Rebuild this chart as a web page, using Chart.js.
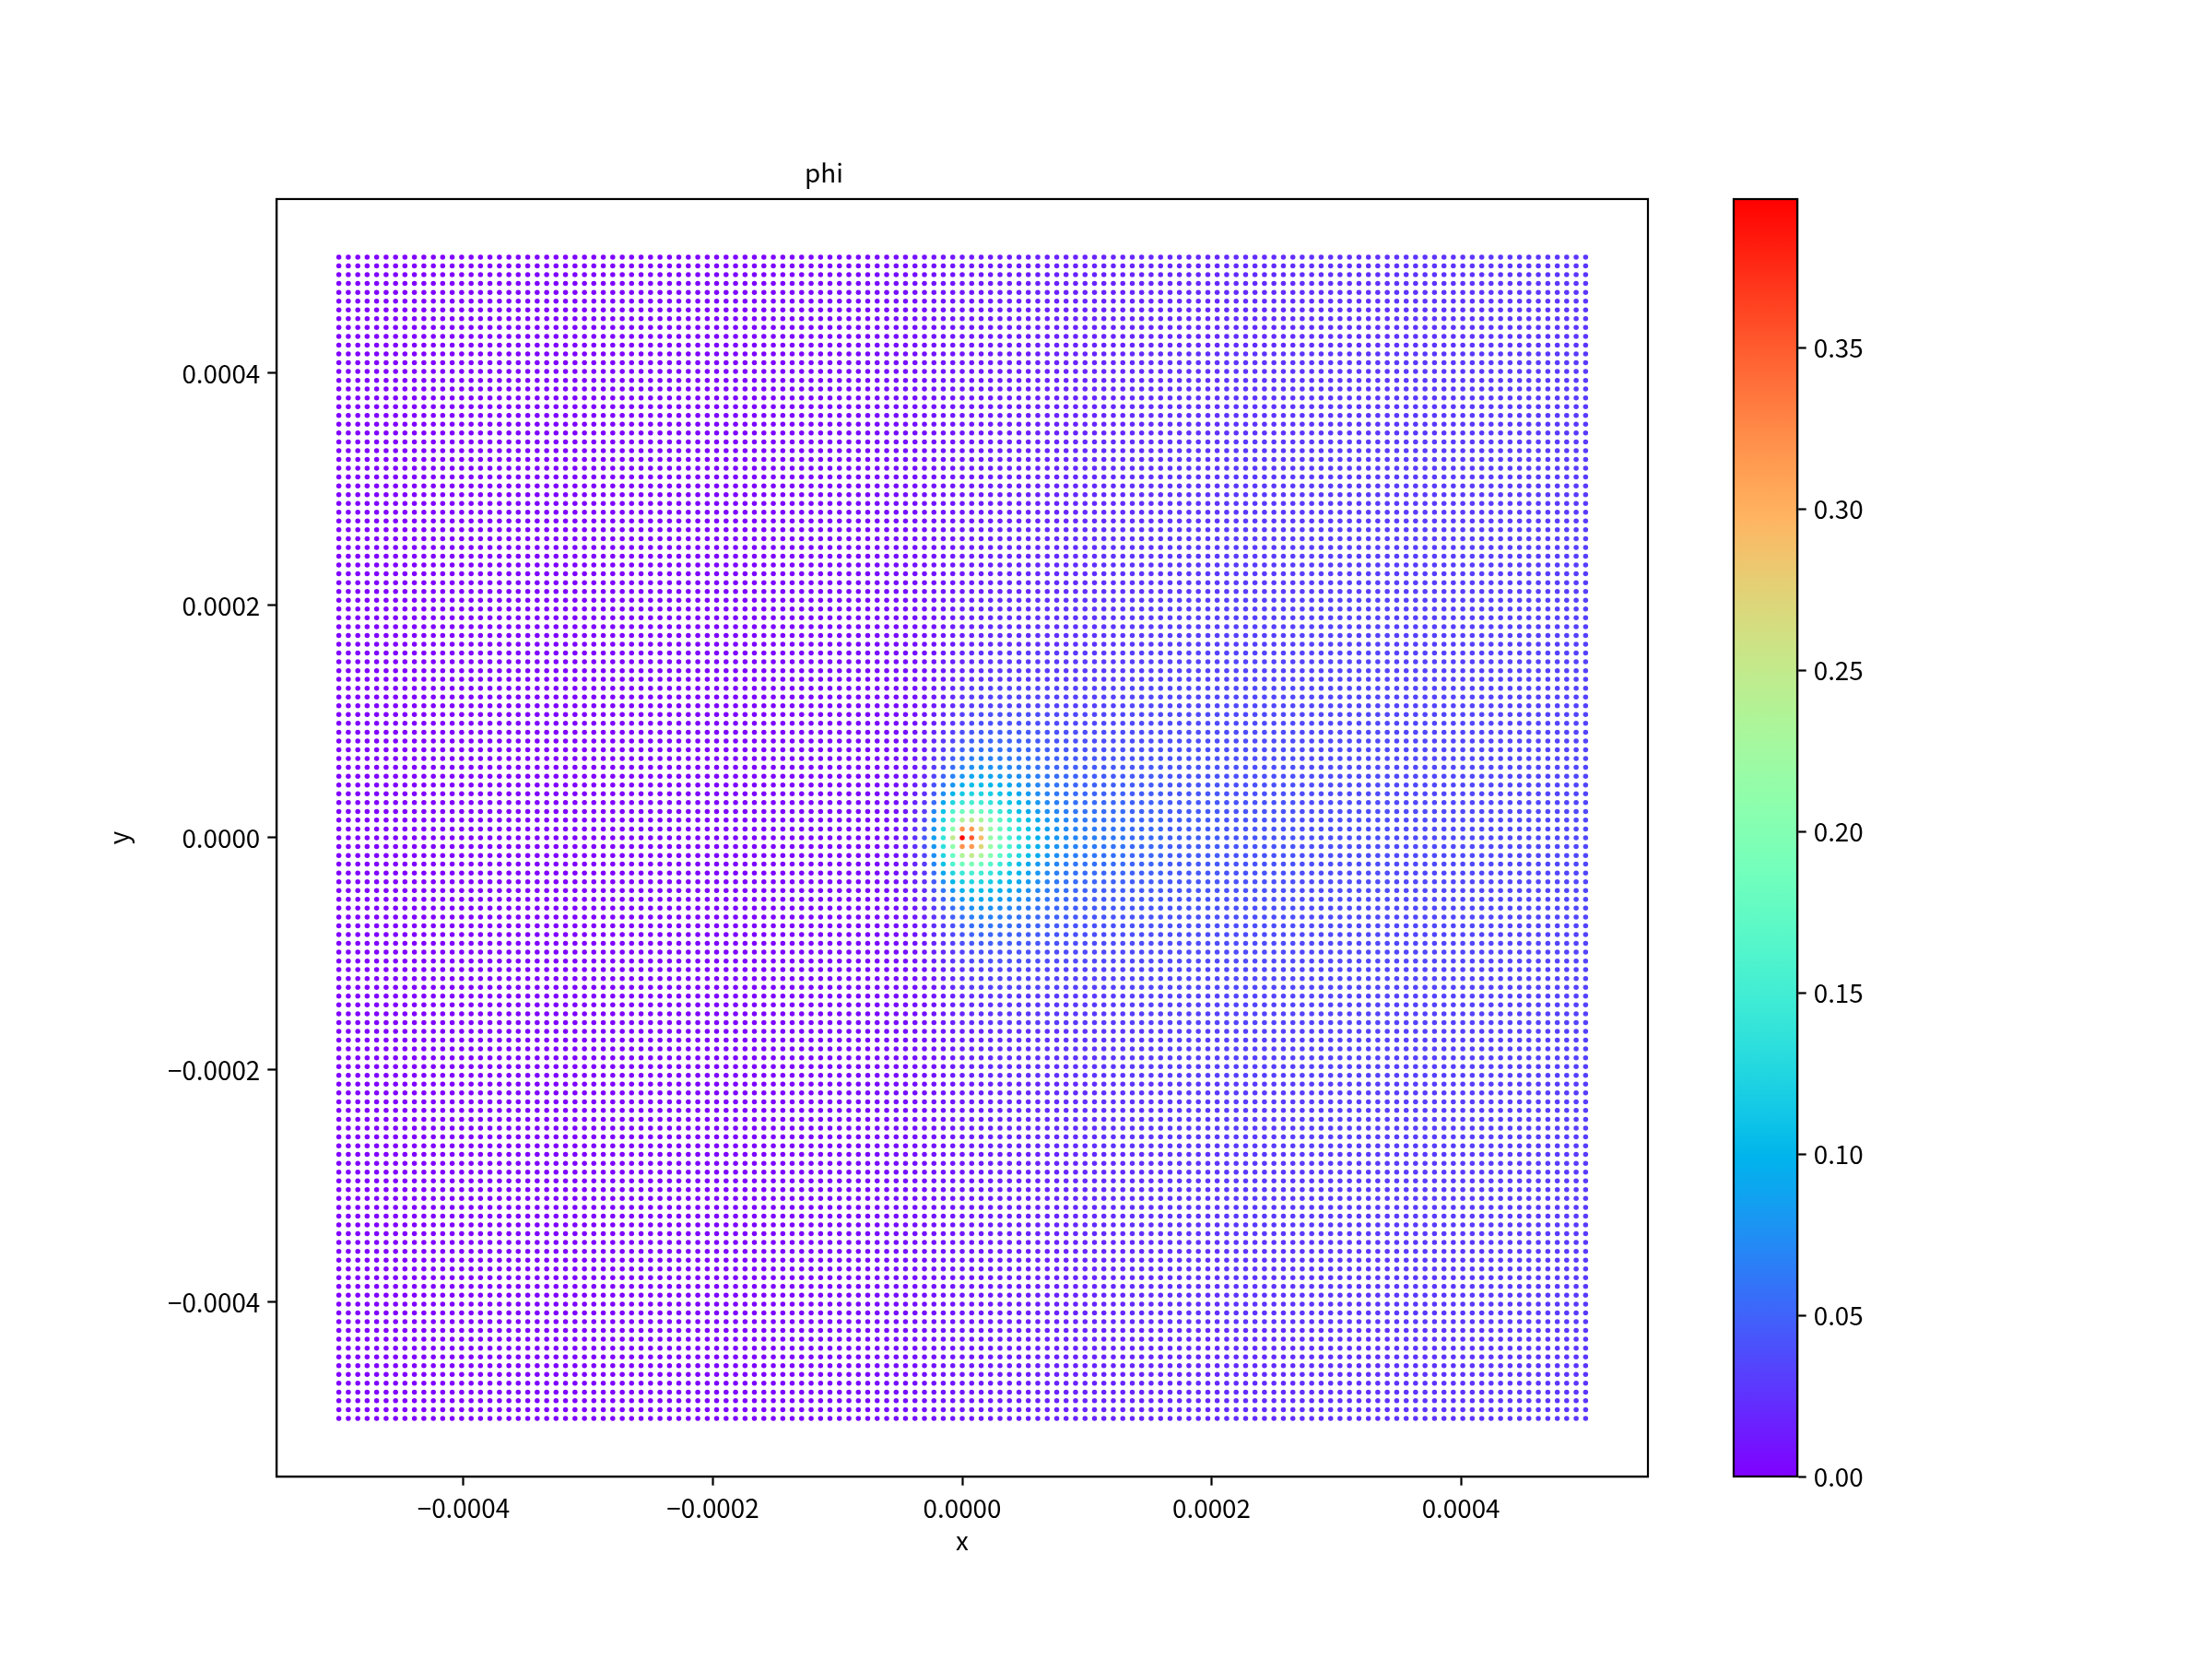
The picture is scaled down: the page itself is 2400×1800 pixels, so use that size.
<!DOCTYPE html>
<html>
<head>
<meta charset="utf-8">
<script src="https://cdn.jsdelivr.net/npm/chart.js@4"></script>
<style>
html,body{margin:0;padding:0;background:#fff;width:2400px;height:1800px;overflow:hidden}
canvas{position:absolute;top:0}
#main{left:0}
#bar{left:1860px}
</style>
</head>
<body>
<canvas id="main" width="1860" height="1800"></canvas>
<canvas id="bar" width="540" height="1800"></canvas>
<script>
// grid coordinates of the probes, in micrometres
const gridCoords = [-500,-492.4,-484.8,-477.3,-469.7,-462.1,-454.5,-447,-439.4,-431.8,-424.2,-416.7,-409.1,-401.5,-393.9,-386.4,-378.8,-371.2,-363.6,-356.1,-348.5,-340.9,-333.3,-325.8,-318.2,-310.6,-303,-295.5,-287.9,-280.3,-272.7,-265.2,-257.6,-250,-242.4,-234.8,-227.3,-219.7,-212.1,-204.5,-197,-189.4,-181.8,-174.2,-166.7,-159.1,-151.5,-143.9,-136.4,-128.8,-121.2,-113.6,-106.1,-98.5,-90.9,-83.3,-75.8,-68.2,-60.6,-53,-45.5,-37.9,-30.3,-22.7,-15.2,-7.6,0,7.6,15.2,22.7,30.3,37.9,45.5,53,60.6,68.2,75.8,83.3,90.9,98.5,106.1,113.6,121.2,128.8,136.4,143.9,151.5,159.1,166.7,174.2,181.8,189.4,197,204.5,212.1,219.7,227.3,234.8,242.4,250,257.6,265.2,272.7,280.3,287.9,295.5,303,310.6,318.2,325.8,333.3,340.9,348.5,356.1,363.6,371.2,378.8,386.4,393.9,401.5,409.1,416.7,424.2,431.8,439.4,447,454.5,462.1,469.7,477.3,484.8,492.4,500];

// how many neighbouring grid columns share each table column, left to right
const colSpans = [18,12,10,8,4,3,2, 1,1,1,1,1,1,1,1,1,1,1,1,1,1,1,1,1,1,1,1,1,1, 2,3,4,6,8,10,10,11];
// how many grid rows share each table row, moving away from y = 0 (field mirrors about y = 0)
const rowSpans = [1,1,1,1,1,1,1,1,1,1,1,1,1,2,3,4,6,8,10,10,11];

// phi, in thousandths
const phiMilli = [
[0,0,1,2,3,3,4, 4,6,9,14,24,45,85,140,250,397,350,290,215,185,155,130,115,95,85,80,75,70, 66,62,54,48,43,39,37,36],
[0,0,1,2,3,3,4, 4,6,9,14,23,40,80,135,210,320,315,270,215,180,155,130,110,95,85,78,72,68, 64,60,53,47,43,39,37,36],
[0,0,1,2,3,3,4, 4,6,9,13,21,35,75,125,180,235,250,230,200,170,145,125,105,92,82,75,70,65, 62,58,52,47,42,39,37,36],
[0,0,1,2,3,3,4, 4,6,8,12,19,30,70,110,160,185,195,185,165,145,125,105,92,82,75,70,65,62, 59,56,51,46,42,39,37,36],
[0,0,1,2,3,3,4, 4,6,8,12,18,27,55,90,125,145,155,150,140,125,110,100,88,80,72,66,62,58, 55,53,49,45,42,38,36,35],
[0,0,1,2,3,3,4, 4,6,8,11,16,24,45,75,100,115,125,125,118,110,100,90,82,75,68,62,58,55, 52,50,47,44,41,38,36,35],
[0,0,1,2,3,3,4, 4,6,8,11,15,22,40,60,80,95,105,105,100,95,90,82,75,70,64,60,56,52, 49,48,46,43,41,38,36,35],
[0,0,1,2,3,3,4, 4,6,8,10,14,20,34,50,68,80,90,90,88,83,78,74,70,65,60,56,53,50, 47,46,45,42,40,38,36,35],
[0,0,1,2,3,3,4, 4,5,7,10,13,18,30,42,56,68,75,78,76,73,70,66,62,58,55,52,50,48, 46,45,44,42,40,37,36,35],
[0,0,1,2,3,3,4, 4,5,7,9,12,17,26,36,48,58,65,68,67,65,62,60,57,54,51,49,47,45, 44,43,42,41,39,37,36,35],
[0,0,1,2,3,3,4, 4,5,7,9,11,15,23,31,41,50,56,59,60,58,56,54,52,50,48,46,44,42, 41,41,41,40,39,37,36,34],
[0,0,1,2,3,3,4, 4,5,6,8,11,14,21,28,36,44,50,53,53,52,51,50,48,46,45,43,42,40, 39,39,39,39,38,37,35,34],
[0,0,1,2,3,3,4, 4,5,6,8,10,13,19,25,32,39,44,47,48,48,47,46,45,44,42,41,40,39, 38,38,38,38,38,36,35,34],
[0,1,1,2,3,3,4, 4,5,6,8,9,12,16,21,27,33,37,40,41,41,41,41,40,39,38,37,37,36, 36,36,37,37,37,36,35,34],
[0,1,1,2,3,4,5, 5,5,6,7,8,10,13,17,21,26,30,32,33,34,34,34,34,34,34,33,33,32, 32,33,35,35,36,35,34,33],
[0,1,1,2,3,4,5, 5,5,6,7,8,9,11,14,17,20,23,25,26,27,27,28,28,28,28,28,28,28, 29,30,32,33,34,34,33,33],
[0,1,1,2,3,4,5, 5,6,6,7,8,9,10,12,14,16,18,20,21,22,22,23,23,24,24,24,25,25, 26,27,29,31,32,33,32,32],
[0,1,1,2,3,4,5, 6,6,7,7,8,9,10,11,12,13,15,16,17,18,19,19,20,20,21,21,22,22, 23,25,26,28,30,31,31,31],
[0,1,1,2,3,4,5, 6,6,7,8,8,9,10,11,11,12,13,14,15,15,16,16,17,17,18,18,19,20, 21,22,24,26,28,29,30,30],
[0,1,1,2,3,4,5, 6,7,7,8,8,9,10,11,11,12,12,13,13,14,14,15,15,16,16,17,17,18, 19,20,22,24,26,27,28,29],
[0,1,1,2,3,4,5, 6,6,7,7,8,9,10,11,11,12,12,13,13,14,14,15,15,16,16,17,17,17, 18,18,19,20,22,24,26,27]
];

const axisTicks = [-0.0004,-0.0002,0,0.0002,0.0004];
const axisTickLabels = ['\u22120.0004','\u22120.0002','0.0000','0.0002','0.0004'];
const barTicks = [0,0.05,0.10,0.15,0.20,0.25,0.30,0.35];
const barTickLabels = ['0.00','0.05','0.10','0.15','0.20','0.25','0.30','0.35'];
const chartTitle = 'phi';
const xLabel = 'x';
const yLabel = 'y';
const phiMax = 0.396;

const FONT = '"Noto Sans CJK JP","Noto Sans",sans-serif';
const FS = 27.8, LW = 2.2, TL = 9.7;
const BLACK = '#000';

function rainbow(t){
  t = Math.max(0,Math.min(1,t));
  const r = Math.min(1,Math.abs(2*t-0.5)), g = Math.sin(Math.PI*t), b = Math.cos(Math.PI*t/2);
  return 'rgb('+Math.round(r*255)+','+Math.round(g*255)+','+Math.round(b*255)+')';
}
function expandSpans(spans){const o=[];spans.forEach((n,i)=>{for(let k=0;k<n;k++)o.push(i)});return o}
const colIndex = expandSpans(colSpans), rowIndex = expandSpans(rowSpans);
const centre = (gridCoords.length-1)/2;

const points = [], colors = [];
gridCoords.forEach((yv,j)=>{
  const row = phiMilli[rowIndex[Math.abs(j-centre)]];
  gridCoords.forEach((xv,i)=>{
    points.push({x:xv*1e-6,y:yv*1e-6});
    colors.push(rainbow(row[colIndex[i]]/1000/phiMax));
  });
});

const frame = {id:'frame',afterDraw(c){
  const a=c.chartArea,x=c.ctx;x.save();x.strokeStyle=BLACK;x.lineWidth=LW;
  x.strokeRect(a.left,a.top,a.right-a.left,a.bottom-a.top);x.restore();
}};
const tickFont = {family:FONT,size:FS};

function axisOptions(extra){
  return Object.assign({
    type:'linear',min:-0.00055,max:0.00055,
    grid:{drawOnChartArea:false,drawTicks:true,tickLength:TL,tickWidth:LW,color:BLACK},
    border:{display:true,color:BLACK,width:LW},
    afterBuildTicks(s){s.ticks=axisTicks.map(v=>({value:v}))},
    ticks:{color:BLACK,font:tickFont,padding:8,autoSkip:false,maxRotation:0,callback:(v)=>axisTickLabels[axisTicks.indexOf(v)]}
  },extra);
}

new Chart(document.getElementById('main'),{
  type:'scatter',
  data:{datasets:[{data:points,parsing:false,normalized:true,pointBackgroundColor:colors,pointBorderWidth:0,pointRadius:2.75,pointHoverRadius:2.75,showLine:false}]},
  plugins:[frame],
  options:{
    responsive:false,animation:false,devicePixelRatio:1,
    layout:{padding:{left:0,top:0,right:72,bottom:0}},
    plugins:{
      legend:{display:false},tooltip:{enabled:false},
      title:{display:true,text:chartTitle,color:BLACK,font:{family:FONT,size:FS,weight:'normal',lineHeight:1.2},padding:{top:171,bottom:11.6}}
    },
    scales:{
      x:axisOptions({
        title:{display:true,text:xLabel,color:BLACK,font:tickFont,padding:{top:0,bottom:112}},
        afterFit(s){s.height=198}
      }),
      y:axisOptions({
        title:{display:true,text:yLabel,color:BLACK,font:tickFont,padding:{top:112,bottom:0}},
        afterFit(s){s.width=300}
      })
    }
  }
});

new Chart(document.getElementById('bar'),{
  type:'bar',
  data:{labels:[''],datasets:[{
    data:[[0,phiMax]],barPercentage:1,categoryPercentage:1,borderWidth:0,
    backgroundColor(ctx){
      const a=ctx.chart.chartArea; if(!a) return '#8000ff';
      const g=ctx.chart.ctx.createLinearGradient(0,a.bottom,0,a.top);
      for(let i=0;i<=64;i++) g.addColorStop(i/64,rainbow(i/64));
      return g;
    }
  }]},
  plugins:[frame],
  options:{
    responsive:false,animation:false,devicePixelRatio:1,
    layout:{padding:{left:21,top:216,right:0,bottom:0}},
    plugins:{legend:{display:false},tooltip:{enabled:false},title:{display:false}},
    scales:{
      x:{display:false,afterFit(s){s.height=198}},
      y:{
        type:'linear',position:'right',min:0,max:phiMax,
        grid:{drawOnChartArea:false,drawTicks:true,tickLength:TL,tickWidth:LW,color:BLACK},
        border:{display:true,color:BLACK,width:LW},
        afterBuildTicks(s){s.ticks=barTicks.map(v=>({value:v}))},
        ticks:{color:BLACK,font:tickFont,padding:8,autoSkip:false,callback:(v)=>barTickLabels[barTicks.indexOf(v)]},
        afterFit(s){s.width=450}
      }
    }
  }
});
</script>
</body>
</html>
